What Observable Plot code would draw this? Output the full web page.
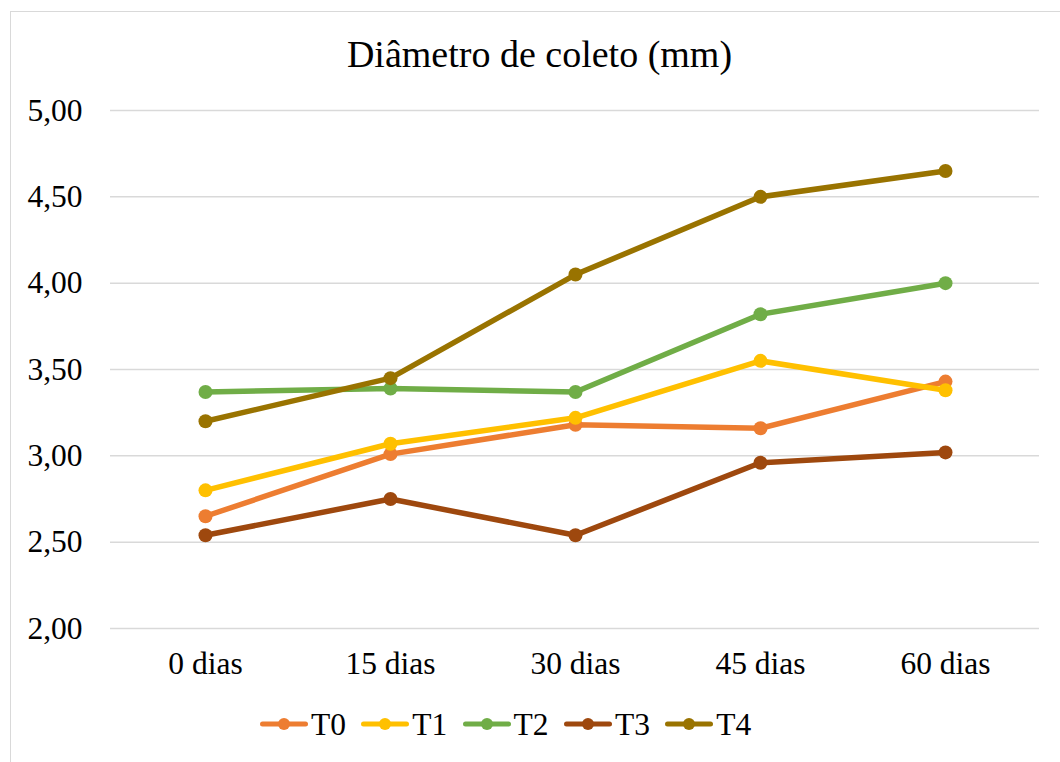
<!DOCTYPE html>
<html>
<head>
<meta charset="utf-8">
<script src="https://cdn.jsdelivr.net/npm/d3@7"></script>
<script src="https://cdn.jsdelivr.net/npm/@observablehq/plot@0.6"></script>
<style>
  html, body { margin: 0; padding: 0; background: #fff; overflow: hidden; }
  #page { position: relative; width: 1060px; height: 762px; font-family: "Liberation Serif", "Times New Roman", serif; color: #000; }
  #border { position: absolute; left: 10px; top: 11px; width: 1100px; height: 800px; border: 1.5px solid #d9d9d9; box-sizing: border-box; }
  #title { position: absolute; left: 0; top: 35px; width: 1079px; text-align: center; font-size: 38px; line-height: 38px; }
  #chart { position: absolute; left: 0; top: 0; }
  #legend { position: absolute; left: 0; top: 709px; width: 1060px; height: 32px; }
  .item { position: absolute; top: 0; height: 32px; }
  .item svg { position: absolute; left: 0; top: 0; }
  .item span { position: absolute; left: 51px; top: 0; font-size: 31.5px; line-height: 32px; white-space: nowrap; }
</style>
</head>
<body>
<div id="page">
  <div id="border"></div>
  <div id="chart"></div>
  <div id="title">Diâmetro de coleto (mm)</div>
  <div id="legend"></div>
</div>
<script>
const categories = ["0 dias", "15 dias", "30 dias", "45 dias", "60 dias"];
const seriesNames = ["T0", "T1", "T2", "T3", "T4"];
const T0 = [2.65, 3.01, 3.18, 3.16, 3.43];
const T1 = [2.80, 3.07, 3.22, 3.55, 3.38];
const T2 = [3.37, 3.39, 3.37, 3.82, 4.00];
const T3 = [2.54, 2.75, 2.54, 2.96, 3.02];
const T4 = [3.20, 3.45, 4.05, 4.50, 4.65];
const seriesColors = ["#ED7D31", "#FFC000", "#70AD47", "#9E480E", "#997300"];
const yTicks = [2.0, 2.5, 3.0, 3.5, 4.0, 4.5, 5.0];

const seriesValues = [T0, T1, T2, T3, T4];
const rows = [];
seriesNames.forEach((s, i) => {
  categories.forEach((c, j) => rows.push({series: s, cat: c, value: seriesValues[i][j]}));
});

const marks = [
  Plot.ruleY(yTicks, {stroke: "#d9d9d9", strokeWidth: 1.5}),
  Plot.axisY({ticks: yTicks, tickSize: 0, tickPadding: 28, fontSize: 31.5,
    tickFormat: d => d.toFixed(2).replace(".", ","), label: null}),
  Plot.axisX({tickSize: 0, tickPadding: 23, fontSize: 31.5, label: null})
];
seriesNames.forEach((s, i) => {
  const d = rows.filter(r => r.series === s);
  marks.push(Plot.line(d, {x: "cat", y: "value", stroke: seriesColors[i], strokeWidth: 5.5, strokeLinejoin: "round", strokeLinecap: "round"}));
  marks.push(Plot.dot(d, {x: "cat", y: "value", fill: seriesColors[i], r: 7, stroke: "none"}));
});

const chart = Plot.plot({
  width: 1060,
  height: 762,
  marginLeft: 110,
  marginRight: 21,
  marginTop: 110,
  marginBottom: 134,
  style: {fontFamily: "'Liberation Serif', 'Times New Roman', serif", fontSize: "31.5px", color: "#000", background: "transparent"},
  x: {type: "point", domain: categories, padding: 0.5},
  y: {domain: [2, 5]},
  marks
});
document.getElementById("chart").appendChild(chart);

const legend = document.getElementById("legend");
seriesNames.forEach((s, i) => {
  const item = document.createElement("div");
  item.className = "item";
  item.style.left = (260 + i * 101.3) + "px";
  item.innerHTML = `<svg width="48" height="32"><line x1="2.5" x2="45.5" y1="15" y2="15" stroke="${seriesColors[i]}" stroke-width="5" stroke-linecap="round"/><circle cx="24" cy="15" r="6" fill="${seriesColors[i]}"/></svg><span>${s}</span>`;
  legend.appendChild(item);
});
</script>
</body>
</html>
